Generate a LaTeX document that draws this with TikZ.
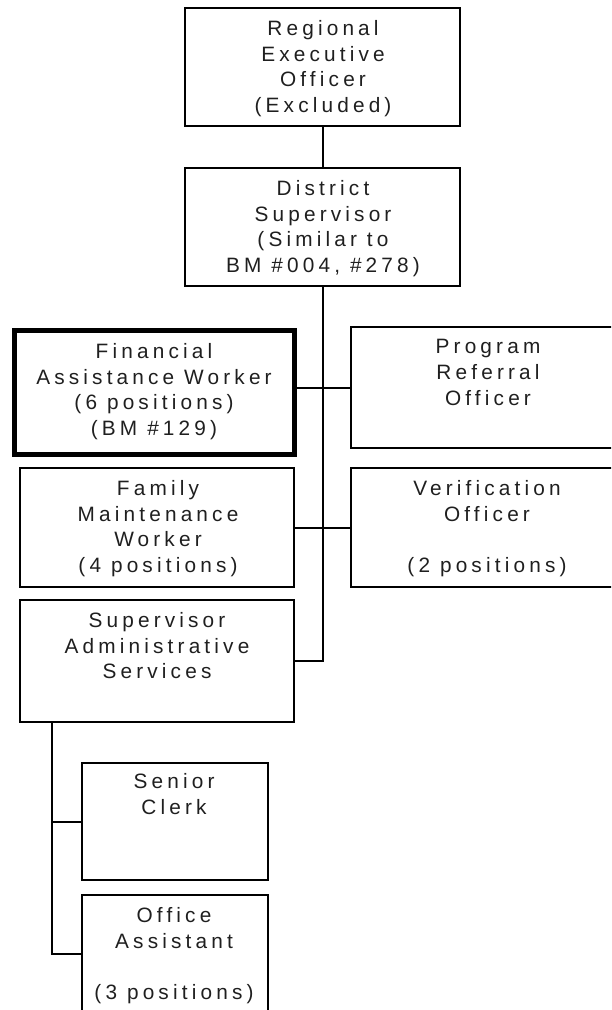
\documentclass[tikz,border=0pt]{standalone}
\usepackage{fontspec}
\setmainfont{Liberation Sans}[LetterSpace=20]
\begin{document}
\begin{tikzpicture}[x={(1pt,0)},y={(0,-1pt)},
  box/.style={draw=black,line width=2pt,inner sep=0pt,anchor=north west,rectangle},
  thickbox/.style={box,line width=4.5pt},
  txt/.style={inner sep=0pt,anchor=north,align=center,text=black!88,
    font={\fontsize{20.8}{25.8}\selectfont}},
  conn/.style={draw=black,line width=2pt}]
\useasboundingbox (0,0) rectangle (611,1010);
\clip (0,0) rectangle (611,1010);
% boxes
\node[box,minimum width=275pt,minimum height=118pt] (reo) at (184,7) {};
\node[box,minimum width=275pt,minimum height=118pt] (ds) at (184,167) {};
\node[thickbox,minimum width=280pt,minimum height=124pt] (faw) at (12,328) {};
\node[box,minimum width=272pt,minimum height=121pt] (pro) at (350,326) {};
\node[box,minimum width=274pt,minimum height=119pt] (fmw) at (19,467) {};
\node[box,minimum width=272pt,minimum height=119pt] (vo) at (350,467) {};
\node[box,minimum width=274pt,minimum height=122pt] (sas) at (19,599) {};
\node[box,minimum width=186pt,minimum height=117pt] (sc) at (81,762) {};
\node[box,minimum width=186pt,minimum height=118pt] (oa) at (81,894) {};
% texts
\node[txt] (reot) at (323,20) {Regional\\Executive\\Officer\\(Excluded)};
\node[txt] (dst) at (323,180) {District\\Supervisor\\(Similar to\\BM \#004, \#278)};
\node[txt] (fawt) at (154,343) {Financial\\Assistance Worker\\(6 positions)\\(BM \#129)};
\node[txt] (prot) at (488,339) {Program\\Referral\\Officer};
\node[txt] (fmwt) at (158,480) {Family\\Maintenance\\Worker\\(4 positions)};
\node[txt] (vot) at (487,480) {Verification\\Officer\\\mbox{}\\(2 positions)};
\node[txt] (sast) at (157,612) {Supervisor\\Administrative\\Services};
\node[txt] (sct) at (174,773) {Senior\\Clerk};
\node[txt] (oat) at (174,907) {Office\\Assistant\\\mbox{}\\(3 positions)};
% connectors
\draw[conn] (reo.south) -- (ds.north);
\draw[conn] (ds.south) |- (sas.east);
\draw[conn] (pro.west) -- (pro.west -| faw.east);
\draw[conn] (vo.west) -- (vo.west -| fmw.east);
\coordinate (drop) at (52,721);
\draw[conn] (drop) |- (oa.west);
\draw[conn] (sc.west) -- (sc.west -| drop);
\end{tikzpicture}
\end{document}
